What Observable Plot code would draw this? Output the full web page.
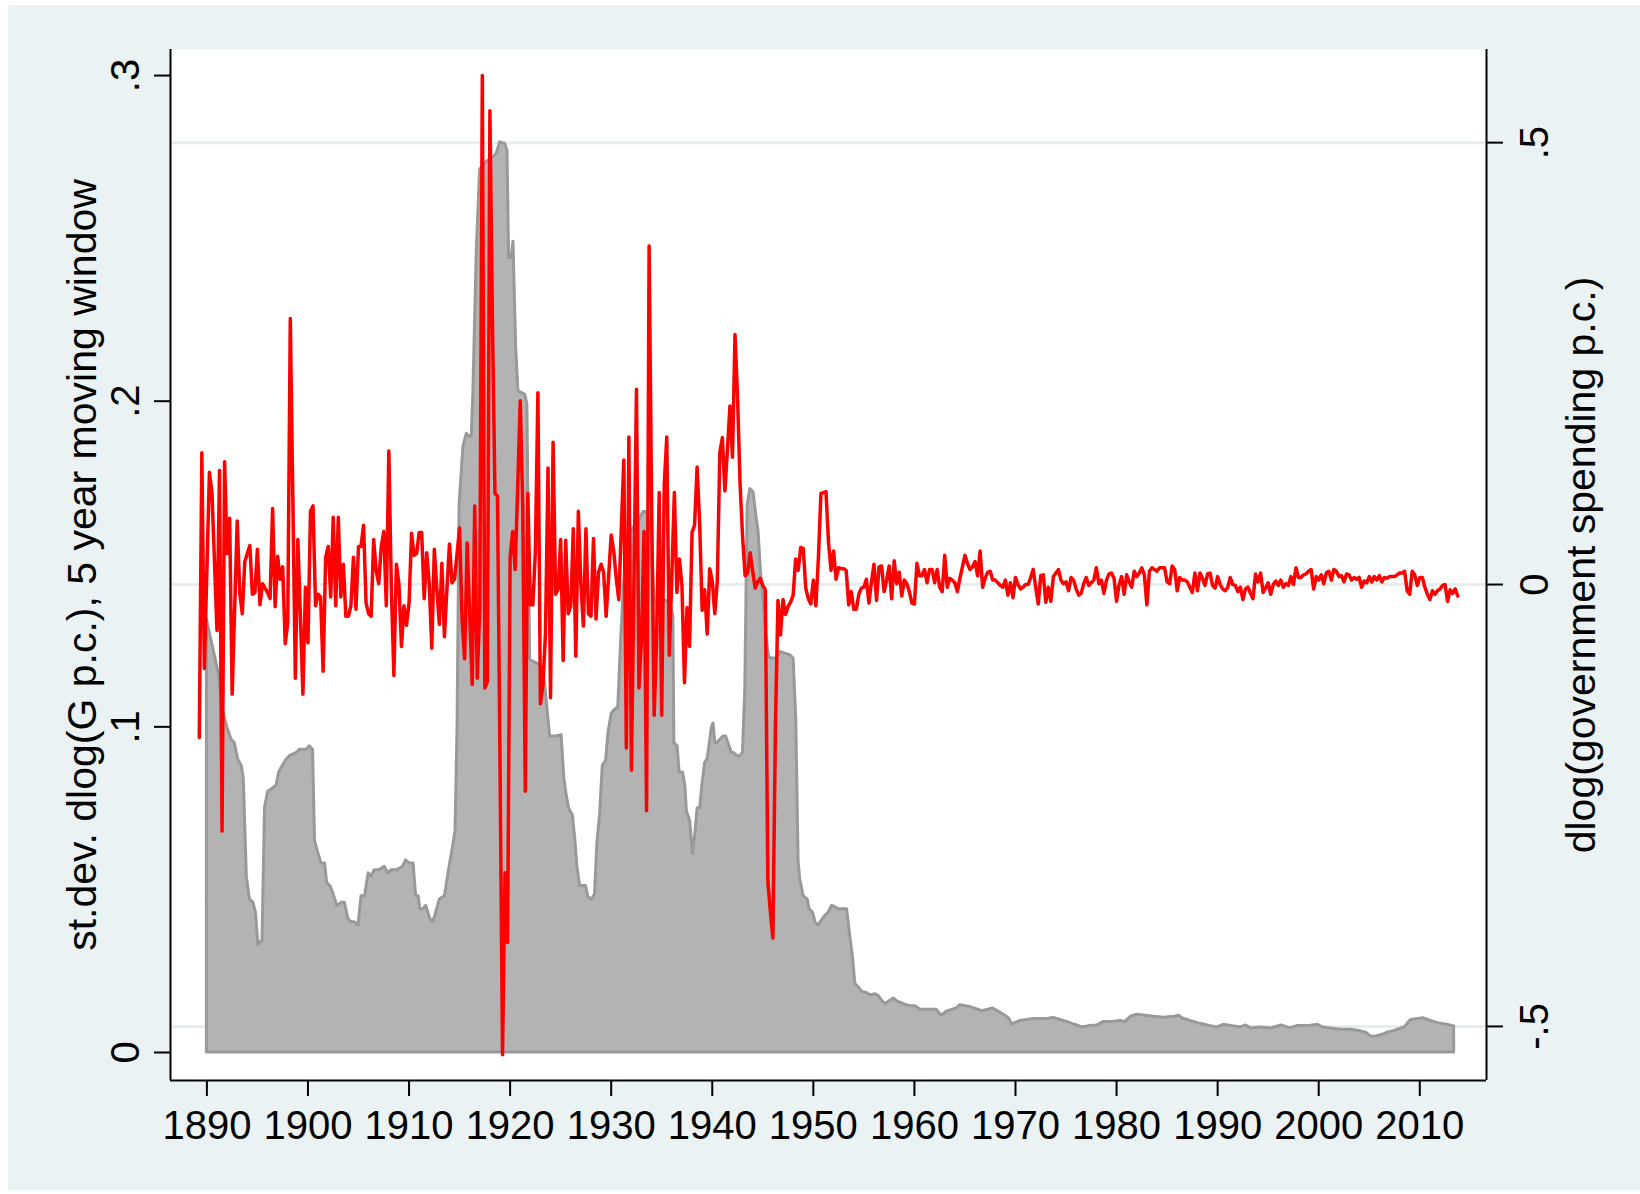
<!DOCTYPE html>
<html>
<head>
<meta charset="utf-8">
<script src="https://cdn.jsdelivr.net/npm/d3@7"></script>
<script src="https://cdn.jsdelivr.net/npm/@observablehq/plot@0.6"></script>
<style>
html, body { margin:0; padding:0; background:#ffffff; }
#bg { position:absolute; left:8px; top:5px; width:1632px; height:1185px; background:#eaf2f3; }
#chart { position:absolute; left:0; top:0; }
</style>
</head>
<body>
<div id="bg"></div>
<div id="chart"></div>
<script>
// ---------- axis ticks & labels ----------
const xTickYears = [1890, 1900, 1910, 1920, 1930, 1940, 1950, 1960, 1970, 1980, 1990, 2000, 2010];
const leftTicks = [0, 0.1, 0.2, 0.3];
const leftTickLabels = ["0", ".1", ".2", ".3"];
const rightTicks = [-0.5, 0, 0.5];
const rightTickLabels = ["-.5", "0", ".5"];
const leftTitle = "st.dev. dlog(G p.c.), 5 year moving window";
const rightTitle = "dlog(government spending p.c.)";

// ---------- red series: dlog(government spending p.c.), quarterly, right axis ----------
const red1889 = [-0.173, 0.149, -0.095, 0.016, 0.127, 0.104, 0.026, -0.052, 0.129, -0.279, 0.139, 0.035, 0.075, -0.124, -0.026, 0.072, -0.009, -0.033, 0.026, 0.035, 0.044, -0.011, -0.009, 0.040, -0.023, 0.001, -0.004, -0.009, -0.016, 0.086, -0.025, 0.032, 0.006, 0.020, -0.067, -0.043, 0.301, 0.10, -0.106, 0.051, -0.036, -0.124, -0.003, -0.066, 0.083, 0.089];
const red1900 = [-0.024, -0.011, -0.014, -0.098, 0.031, 0.043, -0.014, 0.076, -0.024, 0.076, -0.014, 0.023, -0.036, -0.036, -0.024, 0.031, -0.028, 0.043, 0.043, 0.067, -0.021, -0.033, -0.036, 0.051, 0.016, 0.001, 0.043, 0.060, -0.024, 0.151, -0.004, -0.103, 0.023, 0.001, -0.070, -0.024, -0.046, -0.021, 0.058, 0.033, 0.035, 0.059, 0.059, -0.016, 0.036, 0.001, -0.072, 0.040];
const red1912 = [-0.005, -0.045, 0.024, -0.059, -0.005, 0.046, 0.002, 0.006, 0.035, 0.064, -0.041, -0.084, 0.047, -0.034, -0.113, 0.089, -0.106, -0.027, 0.576, -0.117, -0.11, 0.536, 0.30, 0.103, 0.100, -0.2, -0.532, -0.326, -0.405, 0.03, 0.060, 0.017, 0.11, 0.208, 0.089, -0.234, 0.103, -0.023, -0.023, 0.038, 0.217, -0.135, -0.113, -0.055, 0.132, -0.128, 0.161];
const red1924 = [-0.011, -0.005, 0.051, -0.086, 0.050, -0.033, -0.024, 0.063, -0.081, 0.083, 0.001, -0.047, 0.063, -0.033, -0.036, 0.052, -0.039, 0.014, 0.023, 0.014, -0.036, 0.01, 0.056, 0.038, 0.007, -0.017, 0.063, 0.141, -0.185, 0.167, -0.210, 0.0, 0.221, -0.117, -0.061, 0.060, -0.256, 0.383, 0.09, -0.148, -0.06, 0.104, -0.148, 0.113, 0.167, -0.080, 0.01, 0.104];
const red1936 = [-0.009, 0.029, -0.001, -0.111, -0.026, -0.070, 0.059, 0.067, 0.133, 0.070, -0.029, -0.006, -0.056, 0.018, 0.004, -0.033, 0.004, 0.150, 0.166, 0.106, 0.152, 0.202, 0.144, 0.283, 0.213, 0.114, 0.054, 0.010, 0.013, 0.036, 0.015, -0.004, 0.003, 0.007, -0.001, -0.006, -0.336, -0.37, -0.400, -0.160, -0.018, -0.057, -0.017, -0.034, -0.025, -0.02, -0.012];
const red1948 = [0.029, 0.016, 0.042, 0.041, -0.004, -0.016, -0.022, 0.005, -0.024, 0.03, 0.103, 0.104, 0.105, 0.048, 0.016, 0.038, 0.006, 0.019, 0.018, 0.018, 0.016, -0.023, -0.008, -0.028, -0.028, -0.011, -0.004, -0.003, 0.006, -0.021, 0.003, 0.023, -0.018, 0.020, 0.021, -0.008, 0.005, 0.021, -0.016, 0.027, 0.001, 0.014, -0.013, 0.005, 0.001, -0.008, -0.021];
const red1960 = [-0.022, 0.024, 0.010, 0.010, 0.017, 0.002, 0.017, 0.017, 0.002, 0.017, -0.003, -0.008, 0.033, -0.003, 0.007, 0.005, 0.002, -0.008, 0.007, 0.020, 0.033, 0.024, 0.017, 0.020, 0.026, 0.010, 0.038, -0.003, 0.007, 0.014, 0.015, 0.005, 0.005, 0.002, -0.001, -0.003, 0.005, -0.012, 0.002, -0.015, 0.008, 0.000, -0.005, -0.003, 0.000, 0.000, 0.008, 0.017, -0.003, -0.022, 0.010, 0.011, -0.020, -0.003];
const red1973 = [-0.019, 0.009, 0.013, 0.017, 0.005, 0.001, 0.003, -0.007, 0.008, 0.005, -0.005, -0.012, -0.010, 0.001, 0.008, -0.001, 0.002, 0.005, 0.019, 0.001, 0.005, -0.010, 0.005, 0.012, 0.013, 0.007, -0.019, 0.000, 0.009, -0.011, 0.011, 0.003, -0.003, 0.015, 0.009, 0.013, 0.019, 0.011, -0.023, 0.015, 0.019, 0.017, 0.015, 0.019, 0.019, 0.019, 0.003, 0.001, 0.021, 0.017, -0.007, 0.008, 0.005, 0.005, 0.003, -0.003, -0.009, 0.013, -0.007, 0.013, 0.007, -0.001, 0.012, 0.013, -0.001, -0.004, 0.009, 0.000, -0.005, -0.007, -0.003, 0.008, 0.000, -0.001, -0.008, -0.003, -0.017, -0.005, -0.003, -0.010, -0.016, 0.012, 0.003, 0.013, -0.009, -0.004, 0.002, -0.011, 0.000, 0.004, -0.001, 0.005, -0.003, 0.001, -0.001, 0.009, 0.000, 0.019, 0.008, 0.008, 0.011, 0.012, 0.015, 0.017, -0.005, 0.009, 0.005, 0.011, 0.001, 0.013, 0.015, 0.005, 0.017, 0.015, 0.009, 0.010, 0.003, 0.012, 0.011, 0.005, 0.008, 0.006, 0.008, -0.003, 0.004, 0.002, 0.009, 0.003, 0.009, 0.005, 0.010, 0.003, 0.008, 0.007, 0.009, 0.009, 0.009, 0.011, 0.013, 0.013, 0.015, -0.007, -0.011, 0.015, 0.011, -0.001, 0.008, 0.008, -0.003, -0.011, -0.017, -0.007, -0.011, -0.007, -0.005, -0.001, 0.000, -0.019, -0.006, -0.010, -0.005, -0.013];
const redSegments = [[1889.25, red1889], [1900.75, red1900], [1912.75, red1912], [1924.5, red1924], [1936.5, red1936], [1948.25, red1948], [1960.0, red1960], [1973.5, red1973]];

// ---------- gray series: st.dev. of dlog(G p.c.), 5-year window, left axis ([year, value]) ----------
const gray1890 = [[1890.0, 0.133], [1891.2, 0.116], [1891.6, 0.105], [1892.0, 0.100], [1892.45, 0.096], [1892.75, 0.095], [1893.1, 0.090], [1893.45, 0.088], [1893.65, 0.084], [1893.95, 0.054], [1894.25, 0.047], [1894.6, 0.046], [1894.85, 0.043], [1895.1, 0.033], [1895.3, 0.034], [1895.5, 0.034], [1895.75, 0.075], [1896.05, 0.080], [1896.5, 0.081], [1896.9, 0.082], [1897.15, 0.086], [1897.5, 0.088], [1897.9, 0.090], [1898.2, 0.091], [1898.9, 0.092], [1899.2, 0.093], [1899.9, 0.093], [1900.15, 0.094], [1900.5, 0.093], [1900.7, 0.065], [1900.95, 0.062], [1901.35, 0.058], [1901.7, 0.058], [1901.9, 0.052], [1902.25, 0.051], [1902.6, 0.048], [1902.9, 0.045], [1903.35, 0.046], [1903.65, 0.046], [1904.0, 0.041], [1904.3, 0.040], [1904.65, 0.040], [1905.0, 0.039], [1905.3, 0.048], [1905.65, 0.048], [1906.0, 0.055], [1906.3, 0.054], [1906.6, 0.056], [1907.1, 0.056], [1907.6, 0.057], [1907.95, 0.055], [1908.3, 0.056], [1908.85, 0.056], [1909.4, 0.057], [1909.7, 0.059], [1910.1, 0.058], [1910.45, 0.058], [1910.7, 0.048], [1910.95, 0.048], [1911.1, 0.044], [1911.4, 0.044], [1911.7, 0.045], [1912.1, 0.041], [1912.4, 0.040], [1912.6, 0.042], [1913.05, 0.047], [1913.55, 0.048], [1913.9, 0.055], [1914.4, 0.064]];
const gray1914 = [[1914.6, 0.068], [1914.8, 0.100], [1915.0, 0.168], [1915.38, 0.186], [1915.71, 0.190], [1916.04, 0.189], [1916.2, 0.189], [1916.37, 0.203], [1916.7, 0.246], [1917.03, 0.271], [1917.5, 0.273], [1918.35, 0.275], [1918.68, 0.276], [1919.01, 0.2795], [1919.5, 0.279], [1919.74, 0.277], [1919.9, 0.244], [1920.16, 0.244], [1920.33, 0.249], [1920.6, 0.2165], [1920.82, 0.203], [1921.48, 0.202], [1921.71, 0.199], [1921.98, 0.1205], [1922.64, 0.1195], [1923.13, 0.1185], [1923.47, 0.1127], [1923.96, 0.097], [1924.46, 0.097], [1925.1, 0.0974], [1925.35, 0.0847], [1925.6, 0.0788], [1925.87, 0.0746], [1926.2, 0.0729], [1926.43, 0.0662], [1926.66, 0.057], [1926.93, 0.0511], [1927.5, 0.0511], [1927.75, 0.0477], [1928.08, 0.0469], [1928.4, 0.0485], [1928.64, 0.0645], [1928.9, 0.0729], [1929.17, 0.0881], [1929.5, 0.0895], [1929.73, 0.0982], [1930.06, 0.1041], [1930.4, 0.1053]];
const gray1930 = [[1930.7, 0.106], [1930.95, 0.124], [1931.25, 0.143], [1931.6, 0.158], [1932.2, 0.161], [1932.7, 0.163], [1933.2, 0.166], [1933.55, 0.166], [1933.85, 0.162], [1934.1, 0.150], [1934.35, 0.138], [1935.2, 0.139], [1935.84, 0.138], [1936.15, 0.134], [1936.25, 0.095], [1936.57, 0.094], [1936.77, 0.086], [1937.1, 0.086], [1937.33, 0.082], [1937.49, 0.074], [1937.82, 0.071], [1938.09, 0.061], [1938.32, 0.067], [1938.55, 0.075], [1938.81, 0.075], [1939.05, 0.083], [1939.3, 0.089], [1939.54, 0.090], [1939.97, 0.100], [1940.13, 0.101], [1940.3, 0.095], [1940.5, 0.095], [1940.79, 0.096], [1941.1, 0.097], [1941.38, 0.097], [1941.7, 0.094], [1941.95, 0.092], [1942.11, 0.092], [1942.5, 0.091], [1942.77, 0.091], [1943.04, 0.092], [1943.27, 0.112], [1943.5, 0.168], [1943.76, 0.173], [1944.09, 0.172], [1944.35, 0.165], [1944.58, 0.160], [1944.82, 0.1475], [1945.08, 0.1386], [1945.35, 0.128], [1945.6, 0.122], [1945.74, 0.121], [1946.4, 0.121], [1946.73, 0.123], [1947.23, 0.1225], [1947.72, 0.122], [1948.05, 0.121], [1948.31, 0.1025], [1948.54, 0.0586], [1948.71, 0.053], [1949.04, 0.048], [1949.44, 0.047], [1949.63, 0.044], [1949.96, 0.043], [1950.2, 0.040], [1950.52, 0.039], [1950.86, 0.0406], [1951.2, 0.042], [1951.52, 0.043], [1951.85, 0.045], [1952.18, 0.0446], [1952.51, 0.044], [1953.34, 0.044], [1953.6, 0.037], [1953.93, 0.029], [1954.16, 0.021], [1954.49, 0.020], [1954.82, 0.0186], [1955.32, 0.0183], [1955.65, 0.0175], [1956.14, 0.0179], [1956.47, 0.0173], [1956.8, 0.0159], [1957.13, 0.0149], [1957.63, 0.0159], [1957.96, 0.0166], [1958.29, 0.0157], [1958.62, 0.0153], [1959.12, 0.0146], [1959.6, 0.0143]];
const gray1960 = [[1960.1, 0.0142], [1960.6, 0.0131], [1961.5, 0.0131], [1962.2, 0.0131], [1962.7, 0.0113], [1963.2, 0.0125], [1964.2, 0.0135], [1964.5, 0.0145], [1965.5, 0.0140], [1966.7, 0.0127], [1967.8, 0.0135], [1968.5, 0.0122], [1969.0, 0.0113], [1969.4, 0.0103], [1969.66, 0.0086], [1970.5, 0.0097], [1971.8, 0.0103], [1973.1, 0.0103], [1973.8, 0.0106], [1974.5, 0.0099], [1975.1, 0.0094], [1975.6, 0.0088], [1976.1, 0.0083], [1976.6, 0.0077], [1977.3, 0.0081], [1978.1, 0.0083], [1978.75, 0.0094], [1979.6, 0.0094], [1980.4, 0.0097], [1980.9, 0.0094], [1981.4, 0.0110], [1982.05, 0.0116], [1982.9, 0.0113], [1983.7, 0.0110], [1984.7, 0.0107], [1985.7, 0.0110], [1986.2, 0.0113], [1986.5, 0.0105], [1987.3, 0.0097], [1988.3, 0.0088], [1989.3, 0.0081], [1990.0, 0.0077], [1990.6, 0.0085], [1991.5, 0.0081], [1992.3, 0.0077], [1992.8, 0.0083], [1993.3, 0.0074], [1994.3, 0.0077], [1995.3, 0.0074], [1996.3, 0.0083], [1997.2, 0.0074], [1997.9, 0.0081], [1998.9, 0.0081], [1999.9, 0.0085], [2000.4, 0.0077], [2001.2, 0.0074], [2002.2, 0.0070], [2003.2, 0.0070], [2004.0, 0.0066], [2004.7, 0.0061], [2005.2, 0.0048], [2005.8, 0.0050], [2006.5, 0.0056], [2006.8, 0.0061], [2007.5, 0.0066], [2008.5, 0.0077], [2009.1, 0.0099], [2009.8, 0.0103], [2010.4, 0.0105], [2010.9, 0.0099], [2011.4, 0.0094], [2012.1, 0.0088], [2012.7, 0.0085], [2013.0, 0.0083], [2013.4, 0.0080]];

// ---------- layout ----------
const xDomain = [1886.4, 2016.6];
const yDomain = [-0.0086, 0.308];
// right axis value -> left axis units (right 0 sits at left .1437, right .5 at left .2794)
const toLeft = r => 0.1437 + 0.2714 * r;
const FONT = "'Liberation Sans', Arial, Helvetica, sans-serif";

const redData = redSegments.flatMap(([start, vals]) => vals.map((v, i) => ({t: start + i * 0.25, v: toLeft(v)})));
const grayData = [...gray1890, ...gray1914, ...gray1930, ...gray1960].map(([t, v]) => ({t, v}));
const leftLabelMap = new Map(leftTicks.map((d, i) => [d, leftTickLabels[i]]));
const rightPos = rightTicks.map(toLeft);
const rightLabelMap = new Map(rightPos.map((d, i) => [d, rightTickLabels[i]]));

const chart = Plot.plot({
  width: 1640,
  height: 1194,
  marginLeft: 170,
  marginRight: 154,
  marginTop: 49,
  marginBottom: 114,
  style: {fontFamily: FONT, background: "transparent", color: "black", overflow: "visible"},
  x: {domain: xDomain},
  y: {domain: yDomain},
  marks: [
    Plot.frame({fill: "white", stroke: "none"}),
    Plot.ruleY(rightPos, {stroke: "#e6eef0", strokeWidth: 3}),
    Plot.areaY(grayData, {x: "t", y: "v", fill: "#b3b3b3", stroke: "#999999", strokeWidth: 3, strokeLinejoin: "round"}),
    Plot.lineY(redData, {x: "t", y: "v", stroke: "#ff0000", strokeWidth: 3.5, strokeLinejoin: "round"}),
    Plot.ruleX([xDomain[0], xDomain[1]], {stroke: "black", strokeWidth: 2}),
    Plot.ruleY([yDomain[0]], {stroke: "black", strokeWidth: 2}),
    Plot.axisX({ticks: xTickYears, tickFormat: d => String(d), tickSize: 16, tickPadding: 14, fontSize: 40, strokeWidth: 2, label: null}),
    Plot.axisY({anchor: "left", ticks: leftTicks, tickFormat: d => leftLabelMap.get(d), tickSize: 16, tickRotate: -90, textAnchor: "middle", lineAnchor: "middle", tickPadding: 28, fontSize: 40, strokeWidth: 2, label: null}),
    Plot.axisY({anchor: "right", ticks: rightPos, tickFormat: d => rightLabelMap.get(d), tickSize: 16, tickRotate: -90, textAnchor: "middle", lineAnchor: "middle", tickPadding: 33, fontSize: 40, strokeWidth: 2, label: null}),
    Plot.text([leftTitle], {text: d => d, frameAnchor: "left", dx: -88, rotate: -90, fontSize: 41, textAnchor: "middle", lineAnchor: "middle"}),
    Plot.text([rightTitle], {text: d => d, frameAnchor: "right", dx: 95, rotate: -90, fontSize: 41, textAnchor: "middle", lineAnchor: "middle"})
  ]
});
document.getElementById("chart").appendChild(chart);
</script>
</body>
</html>
